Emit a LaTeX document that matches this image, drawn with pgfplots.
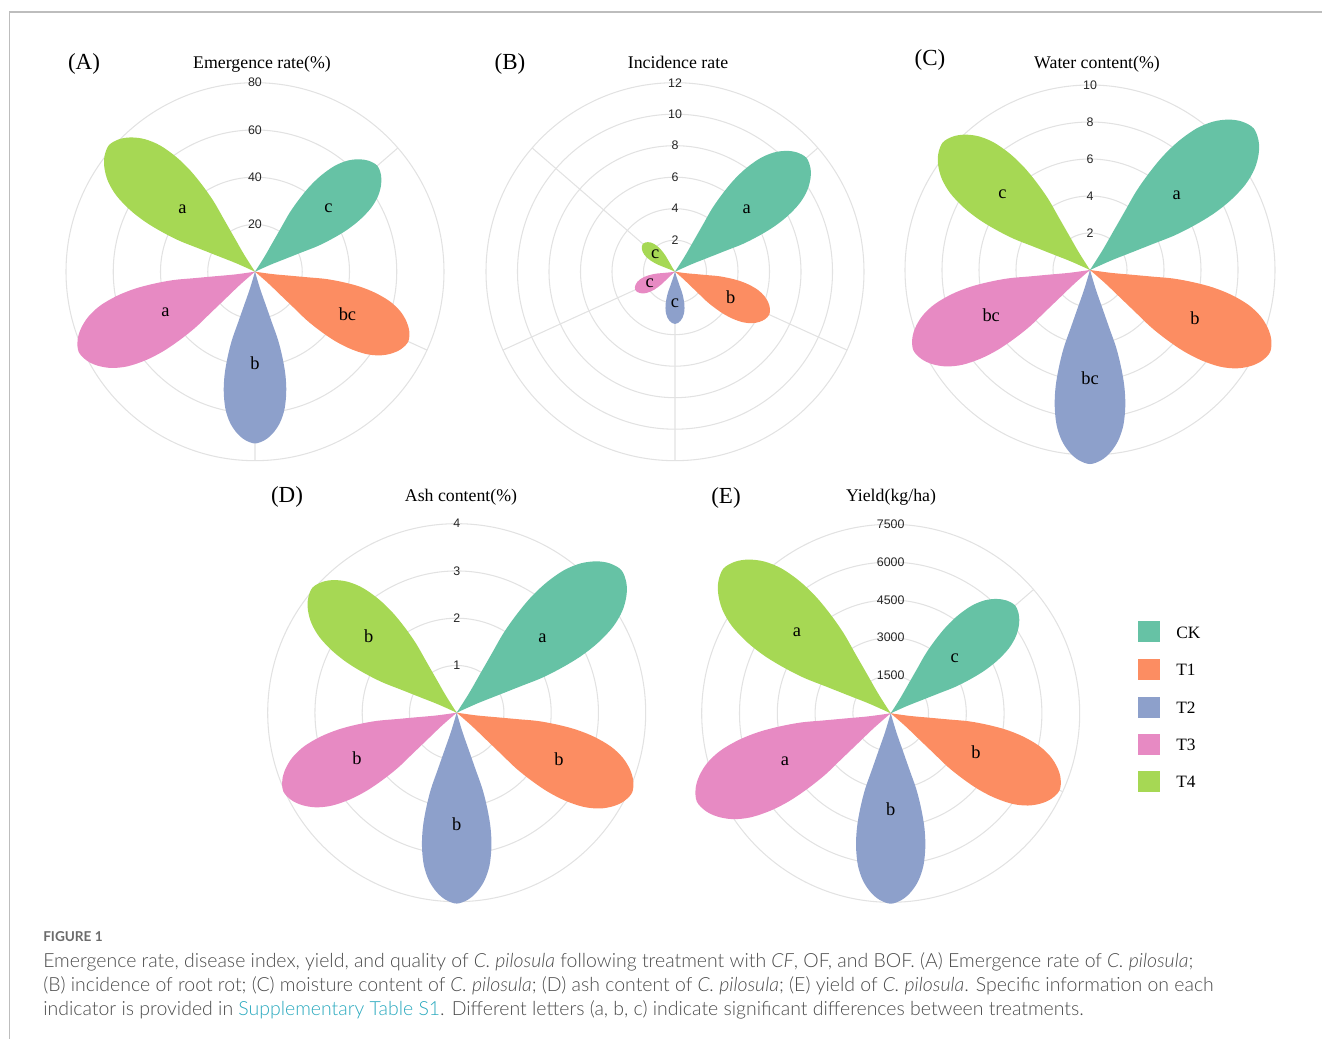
\documentclass[border=0pt]{standalone}
\usepackage{fontspec}
\setmainfont{Liberation Serif}
\newfontfamily\ticksans{Liberation Sans}
\newfontfamily\capsans{Lato Light}
\newfontfamily\capbold{Lato}
\usepackage{pgfplots}
\pgfplotsset{compat=1.18}
\usepackage{pgfplotstable}
\usepgfplotslibrary{polar}

\definecolor{cCK}{HTML}{66C2A5}
\definecolor{cT1}{HTML}{FC8D62}
\definecolor{cT2}{HTML}{8DA0CB}
\definecolor{cT3}{HTML}{E78AC3}
\definecolor{cT4}{HTML}{A6D854}
\definecolor{gridgray}{HTML}{E2E2E2}
\definecolor{framegray}{HTML}{BDBDBD}
\definecolor{capgray}{HTML}{4A4A4A}
\definecolor{figgray}{HTML}{6B6B6B}
\definecolor{linkteal}{HTML}{2AA9BE}

% petal outline: angular offset (deg) and radius as a fraction of the value
\pgfplotstableread{
da     r
0      0
16.70  0.1044
18.00  0.2103
18.43  0.3162
18.65  0.4222
17.74  0.5250
16.44  0.6256
14.57  0.7233
12.13  0.8183
9.36   0.8919
6.37   0.9458
3.39   0.9817
0      1
-3.39  0.9817
-6.37  0.9458
-9.36  0.8919
-12.13 0.8183
-14.57 0.7233
-16.44 0.6256
-17.74 0.5250
-18.65 0.4222
-18.43 0.3162
-18.00 0.2103
-16.70 0.1044
0      0
}\petaltab

% treatment directions (deg): CK, T1, T2, T3, T4
\def\aCK{400.9}
\def\aTa{335.5}
\def\aTb{270}
\def\aTc{204.5}
\def\aTd{139.1}

\newcommand{\petal}[3]{%
  \addplot[fill=#1, draw=none, smooth, tension=0.55]
    table[x expr=\thisrow{da}+#2, y expr=\thisrow{r}*#3]{\petaltab};}

\newcommand{\lettfont}{\fontsize{13.8}{14}\selectfont}

\pgfplotsset{
  flower/.style={
    scale only axis, width=#1, height=#1,
    anchor=origin,
    xmin=90, xmax=450, ymin=0, clip=false,
    xtick={139.1,204.5,270,335.5,400.9}, xticklabels={},
    grid=major, major grid style={gridgray, line width=0.8pt},
    axis line style={draw=none}, tick style={draw=none},
    yticklabel style={font=\ticksans\fontsize{9.3}{10}\selectfont,
      anchor=center, inner sep=1pt, text=black!85},
    /pgf/number format/assume math mode=true,
    /pgf/number format/1000 sep={},
  },
}

\begin{document}
\begin{tikzpicture}[x=0.75pt, y=0.75pt]
\path[use as bounding box] (0,0) rectangle (1322,1039);
\draw[framegray, line width=1.1pt] (9.5,0) -- (9.5,1027) -- (1322,1027);

% (A) emergence rate
\begin{polaraxis}[flower=283.5pt, at={(191.25pt,575.475pt)}, ymax=80, ytick={20,40,60,80}]
\petal{cCK}{\aCK}{68.5}
\petal{cT1}{\aTa}{71.3}
\petal{cT2}{\aTb}{72.7}
\petal{cT3}{\aTc}{82.0}
\petal{cT4}{\aTd}{81.8}
\node[font=\lettfont] at (axis cs:400.9,41.1) {c};
\node[font=\lettfont] at (axis cs:335.5,43.0) {bc};
\node[font=\lettfont] at (axis cs:270,38.8) {b};
\node[font=\lettfont] at (axis cs:204.5,41.7) {a};
\node[font=\lettfont] at (axis cs:139.1,40.6) {a};
\end{polaraxis}

% (B) incidence rate
\begin{polaraxis}[flower=283.5pt, at={(506.25pt,575.475pt)}, ymax=12, ytick={2,4,6,8,10,12}]
\petal{cCK}{\aCK}{11.04}
\petal{cT1}{\aTa}{6.58}
\petal{cT2}{\aTb}{3.32}
\petal{cT3}{\aTc}{2.78}
\petal{cT4}{\aTd}{2.70}
\node[font=\lettfont] at (axis cs:400.9,6.03) {a};
\node[font=\lettfont] at (axis cs:335.5,3.89) {b};
\node[font=\lettfont] at (axis cs:270,2.02) {c};
\node[font=\lettfont] at (axis cs:204.5,1.76) {c};
\node[font=\lettfont] at (axis cs:139.1,1.66) {c};
\end{polaraxis}

% (C) water content
\begin{polaraxis}[flower=277.5pt, at={(817.5pt,576.75pt)}, ymax=10, ytick={2,4,6,8,10}]
\petal{cCK}{\aCK}{11.7}
\petal{cT1}{\aTa}{10.7}
\petal{cT2}{\aTb}{10.49}
\petal{cT3}{\aTc}{10.49}
\petal{cT4}{\aTd}{10.53}
\node[font=\lettfont] at (axis cs:400.9,6.2) {a};
\node[font=\lettfont] at (axis cs:335.5,6.24) {b};
\node[font=\lettfont] at (axis cs:270,5.85) {bc};
\node[font=\lettfont] at (axis cs:204.5,5.87) {bc};
\node[font=\lettfont] at (axis cs:139.1,6.26) {c};
\end{polaraxis}

% (D) ash content
\begin{polaraxis}[flower=283.5pt, at={(342.525pt,244.725pt)}, ymax=4, ytick={1,2,3,4}]
\petal{cCK}{\aCK}{4.61}
\petal{cT1}{\aTa}{4.08}
\petal{cT2}{\aTb}{4.04}
\petal{cT3}{\aTc}{4.03}
\petal{cT4}{\aTd}{4.04}
\node[font=\lettfont] at (axis cs:400.9,2.40) {a};
\node[font=\lettfont] at (axis cs:335.5,2.38) {b};
\node[font=\lettfont] at (axis cs:270,2.37) {b};
\node[font=\lettfont] at (axis cs:204.5,2.32) {b};
\node[font=\lettfont] at (axis cs:139.1,2.46) {b};
\end{polaraxis}

% (E) yield
\begin{polaraxis}[flower=283.5pt, at={(668.025pt,244.275pt)}, ymax=7500, ytick={1500,3000,4500,6000,7500}]
\petal{cCK}{\aCK}{6533}
\petal{cT1}{\aTa}{7365}
\petal{cT2}{\aTb}{7556}
\petal{cT3}{\aTc}{8454}
\petal{cT4}{\aTd}{8779}
\node[font=\lettfont] at (axis cs:400.9,3364) {c};
\node[font=\lettfont] at (axis cs:335.5,3721) {b};
\node[font=\lettfont] at (axis cs:270,3804) {b};
\node[font=\lettfont] at (axis cs:204.5,4613) {a};
\node[font=\lettfont] at (axis cs:139.1,4918) {a};
\end{polaraxis}

% panel letters and titles
\begin{scope}[every node/.style={anchor=base, inner sep=0pt}]
\node[font=\fontsize{17.25}{18}\selectfont] at (84,969) {(A)};
\node[font=\fontsize{13.35}{14}\selectfont] at (262,970) {Emergence rate(\%)};
\node[font=\fontsize{17.25}{18}\selectfont] at (510,969) {(B)};
\node[font=\fontsize{13.35}{14}\selectfont] at (678,970) {Incidence rate};
\node[font=\fontsize{17.25}{18}\selectfont] at (930,973) {(C)};
\node[font=\fontsize{13.35}{14}\selectfont] at (1097,970.7) {Water content(\%)};
\node[font=\fontsize{17.25}{18}\selectfont] at (287,536.3) {(D)};
\node[font=\fontsize{13.35}{14}\selectfont] at (461,537.3) {Ash content(\%)};
\node[font=\fontsize{17.25}{18}\selectfont] at (726,535.7) {(E)};
\node[font=\fontsize{13.35}{14}\selectfont] at (891,537.3) {Yield(kg/ha)};
\end{scope}

% legend
\begin{scope}[every node/.style={anchor=base west, inner sep=0pt, font=\fontsize{13}{14}\selectfont}]
\fill[cCK] (1138.3,396.5) rectangle (1160,417.5);
\node at (1176,400.7) {CK};
\fill[cT1] (1138.3,358.5) rectangle (1160,379.5);
\node at (1176,363) {T1};
\fill[cT2] (1138.3,320.5) rectangle (1160,341.5);
\node at (1176,325) {T2};
\fill[cT3] (1138.3,283.5) rectangle (1160,304.5);
\node at (1176,288) {T3};
\fill[cT4] (1138.3,246.5) rectangle (1160,267.5);
\node at (1176,251) {T4};
\end{scope}

% caption
\begin{scope}[every node/.style={anchor=base west, inner sep=0pt, text=capgray, font=\capsans\fontsize{14.6}{16}\selectfont}]
\node[text=figgray, font=\capbold\bfseries\fontsize{10.2}{12}\selectfont] at (43,97) {FIGURE 1};
\node at (43,71) {Emergence rate, disease index, yield, and quality of \textit{C.\ pilosula} following treatment with \textit{CF}, OF, and BOF. (A) Emergence rate of \textit{C.\ pilosula};};
\node at (43,47) {(B) incidence of root rot; (C) moisture content of \textit{C.\ pilosula}; (D) ash content of \textit{C.\ pilosula}; (E) yield of \textit{C.\ pilosula}. Specific information on each};
\node at (43,23) {indicator is provided in \textcolor{linkteal}{Supplementary Table S1}. Different letters (a, b, c) indicate significant differences between treatments.};
\end{scope}
\end{tikzpicture}
\end{document}
